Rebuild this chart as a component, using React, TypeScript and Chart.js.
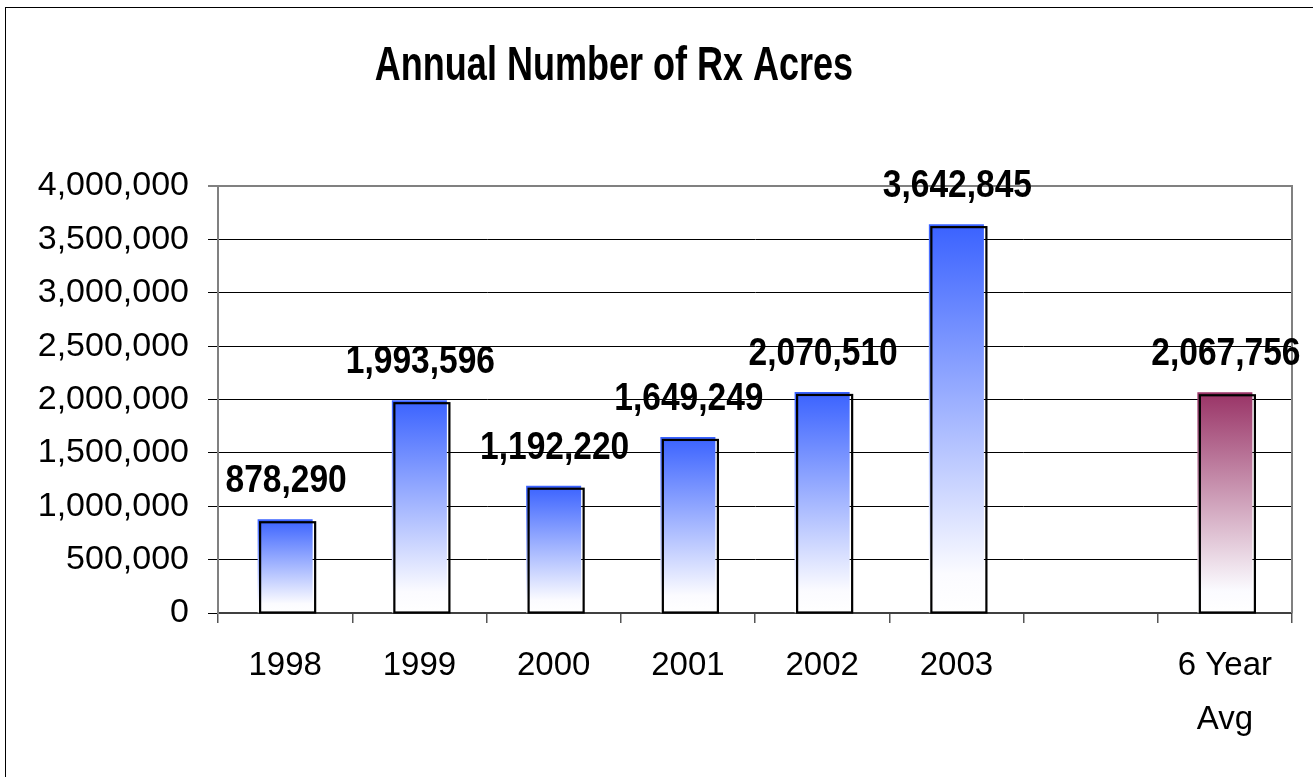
import React, { useEffect, useRef } from "react";
import { Chart, registerables } from "chart.js";

Chart.register(...registerables);

// ---- data ----
const titleText = "Annual Number of Rx Acres";
const categories: (string | string[])[] = ["1998", "1999", "2000", "2001", "2002", "2003", "", ["6 Year", "Avg"]];
const acres: (number | null)[] = [878290, 1993596, 1192220, 1649249, 2070510, 3642845, null, 2067756];
const yMin = 0;
const yMax = 4000000;
const yStep = 500000;

// ---- styles ----
const BLUE = "#3A62FF";
const MAROON = "#993366";
const FONT = "Arial, 'Liberation Sans', sans-serif";

const fmt = (v: number) => v.toLocaleString("en-US");

const colorFor = (i: number) => (i === categories.length - 1 ? MAROON : BLUE);

const framePlugin = {
  id: "frame",
  beforeDraw(chart: any) {
    const ctx = chart.ctx;
    ctx.save();
    ctx.fillStyle = "#ffffff";
    ctx.fillRect(0, 0, chart.width, chart.height);
    ctx.strokeStyle = "#000000";
    ctx.lineWidth = 1;
    ctx.strokeRect(5.5, 7.5, chart.width + 100, chart.height + 100);
    ctx.restore();
  },
  beforeDatasetsDraw(chart: any) {
    const { ctx, chartArea } = chart;
    ctx.save();
    ctx.strokeStyle = "#808080";
    ctx.lineWidth = 2;
    ctx.beginPath();
    ctx.moveTo(chartArea.left, chartArea.top);
    ctx.lineTo(chartArea.right, chartArea.top);
    ctx.lineTo(chartArea.right, chartArea.bottom);
    ctx.stroke();
    ctx.restore();
  },
};

const titlePlugin = {
  id: "customTitle",
  afterDraw(chart: any) {
    const ctx = chart.ctx;
    ctx.save();
    ctx.translate(614, 80);
    ctx.scale(0.735, 1);
    ctx.font = `bold 49px ${FONT}`;
    ctx.fillStyle = "#000000";
    ctx.textAlign = "center";
    ctx.textBaseline = "alphabetic";
    ctx.fillText(titleText, 0, 0);
    ctx.restore();
  },
};

const barDecorPlugin = {
  id: "barDecor",
  afterDatasetsDraw(chart: any) {
    const ctx = chart.ctx;
    const meta = chart.getDatasetMeta(0);
    ctx.save();
    meta.data.forEach((el: any, i: number) => {
      const v = acres[i];
      if (v == null) return;
      const { x, y, width, base } = el.getProps(["x", "y", "width", "base"], true);
      // offset outline
      ctx.strokeStyle = "#000000";
      ctx.lineWidth = 2.2;
      ctx.strokeRect(x - width / 2 + 2.5, y + 3, width, base - y - 3);
      // value label
      ctx.save();
      ctx.translate(x + 1, y - 27);
      ctx.scale(0.86, 1);
      ctx.font = `bold 39px ${FONT}`;
      ctx.fillStyle = "#000000";
      ctx.textAlign = "center";
      ctx.textBaseline = "alphabetic";
      ctx.fillText(fmt(v), 0, 0);
      ctx.restore();
    });
    ctx.restore();
  },
};

export default function App() {
  const ref = useRef<HTMLCanvasElement | null>(null);

  useEffect(() => {
    if (!ref.current) return;
    const chart = new Chart(ref.current, {
      type: "bar",
      data: {
        labels: categories,
        datasets: [
          {
            data: acres,
            borderWidth: 0,
            barPercentage: 0.41,
            categoryPercentage: 1,
            backgroundColor: (c: any) => {
              const col = colorFor(c.dataIndex);
              const chart = c.chart;
              const ys = chart.scales && chart.scales.y;
              if (!ys || c.raw == null) return col;
              const top = ys.getPixelForValue(c.raw);
              const base = ys.getPixelForValue(0);
              if (!isFinite(top) || !isFinite(base) || base - top < 1) return col;
              const g = chart.ctx.createLinearGradient(0, top, 0, base);
              g.addColorStop(0, col);
              g.addColorStop(0.9, "#FBFBFF");
              g.addColorStop(1, "#FFFFFF");
              return g;
            },
          },
        ],
      },
      options: {
        responsive: false,
        animation: false,
        layout: { padding: { top: 186, right: 21, left: 0, bottom: 0 } },
        plugins: {
          legend: { display: false },
          title: { display: false },
          tooltip: { enabled: false },
        },
        scales: {
          x: {
            offset: true,
            grid: {
              offset: true,
              drawOnChartArea: false,
              drawTicks: true,
              tickLength: 10,
              color: "#555555",
              lineWidth: 1.5,
            },
            border: { display: true, color: "#404040", width: 2 },
            ticks: {
              color: "#000000",
              font: { family: FONT, size: 33, lineHeight: 1.64 },
              padding: 16,
              maxRotation: 0,
              autoSkip: false,
            },
            afterFit: (s: any) => {
              s.height = 164;
            },
          },
          y: {
            min: yMin,
            max: yMax,
            grid: {
              color: (c: any) => (c.tick && c.tick.value === yMax ? "#808080" : "#000000"),
              lineWidth: (c: any) => (c.tick && c.tick.value === yMax ? 2 : 1),
              drawTicks: true,
              tickLength: 10,
            },
            border: { display: true, color: "#808080", width: 2 },
            ticks: {
              stepSize: yStep,
              color: "#000000",
              font: { family: FONT, size: 34 },
              padding: 19,
              callback: (v: any) => fmt(Number(v)),
            },
            afterFit: (s: any) => {
              s.width = 218;
            },
          },
        },
      },
      plugins: [framePlugin, barDecorPlugin, titlePlugin],
    } as any);
    return () => chart.destroy();
  }, []);

  return (
    <div style={{ position: "absolute", left: 0, top: 0, width: 1313, height: 777 }}>
      <canvas ref={ref} width={1313} height={777} style={{ display: "block" }} />
    </div>
  );
}
